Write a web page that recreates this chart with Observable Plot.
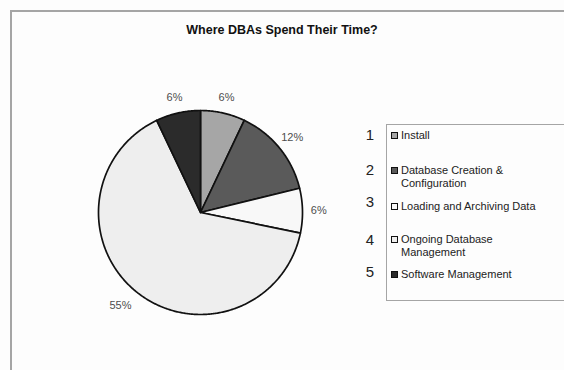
<!DOCTYPE html>
<html><head><meta charset="utf-8">
<script src="https://cdn.jsdelivr.net/npm/d3@7"></script>
<script src="https://cdn.jsdelivr.net/npm/@observablehq/plot@0.6"></script>
<style>
body{margin:0;background:#fff;}
#wrap{position:relative;width:564px;height:370px;overflow:hidden;background:#fdfdfd;font-family:"Liberation Sans",Arial,sans-serif;color:#111;}
#frame{position:absolute;left:10px;top:10px;width:600px;height:400px;border-left:2px solid #a5a5a5;border-top:2px solid #a5a5a5;}
#title{position:absolute;left:0;width:564px;top:23px;text-align:center;font-weight:bold;font-size:12.5px;}
#chart{position:absolute;left:0;top:0;}
#legend{position:absolute;left:386px;top:124px;width:200px;height:175px;border:1.5px solid #a5a5a5;}
.num{position:absolute;left:364px;font-size:15px;width:12px;text-align:center;color:#222;}
.item{position:absolute;left:391px;font-size:11px;line-height:13px;color:#222;}
.sw{position:absolute;left:0;top:3px;width:5px;height:5px;border:1.5px solid #111;}
.lab{margin-left:10px;display:block;}
</style></head>
<body><div id="wrap"><div id="frame"></div><div id="title"></div><div id="chart"></div><div id="legend"></div></div>
<script>
const title = "Where DBAs Spend Their Time?";
const categories = ["Install", "Database Creation & Configuration", "Loading and Archiving Data", "Ongoing Database Management", "Software Management"];
const legendLines = [["Install"], ["Database Creation &", "Configuration"], ["Loading and Archiving Data"], ["Ongoing Database", "Management"], ["Software Management"]];
const values = [6, 12, 6, 55, 6];
const palette = ["#a6a6a6", "#5a5a5a", "#f8f8f8", "#eeeeee", "#2b2b2b"];

document.getElementById("title").textContent = title;

const arcs = d3.pie().sort(null).value(d => d)(values);
const poly = [];
arcs.forEach((a, i) => {
  const key = categories[i];
  poly.push({key, x: 0, y: 0});
  const n = Math.max(2, Math.ceil((a.endAngle - a.startAngle) / 0.01));
  for (let k = 0; k <= n; k++) {
    const t = a.startAngle + (a.endAngle - a.startAngle) * k / n;
    poly.push({key, x: Math.sin(t), y: Math.cos(t)});
  }
  poly.push({key, x: 0, y: 0});
});
const labels = arcs.map((a, i) => {
  const m = (a.startAngle + a.endAngle) / 2;
  return {text: values[i] + "%", x: 1.16 * Math.sin(m), y: 1.16 * Math.cos(m), side: Math.sin(m)};
});

const plot = Plot.plot({
  width: 564, height: 370, margin: 0,
  style: {fontFamily: '"Liberation Sans", Arial, sans-serif', background: "transparent"},
  x: {domain: [-1, 1], range: [98, 302], axis: null},
  y: {domain: [-1, 1], range: [314, 110], axis: null},
  color: {domain: categories, range: palette},
  marks: [
    Plot.line(poly, {x: "x", y: "y", z: "key", fill: "key", stroke: "#111", strokeWidth: 1.7, strokeLinejoin: "round"}),
    Plot.text(labels.filter(d => d.side >= -0.5), {x: "x", y: "y", text: "text", fontSize: 11, fill: "#4d4d4d"}),
    Plot.text(labels.filter(d => d.side < -0.5), {x: "x", y: "y", text: "text", fontSize: 11, fill: "#4d4d4d", dx: -7})
  ]
});
document.getElementById("chart").appendChild(plot);

const numY = [126, 161, 193, 231, 263];
const itemY = [129, 164, 200, 233, 268];
const wrap = document.getElementById("wrap");
legendLines.forEach((lines, i) => {
  const n = document.createElement("div");
  n.className = "num"; n.style.top = numY[i] + "px"; n.textContent = String(i + 1);
  wrap.appendChild(n);
  const it = document.createElement("div");
  it.className = "item"; it.style.top = itemY[i] + "px";
  const sw = document.createElement("div");
  sw.className = "sw"; sw.style.background = palette[i];
  it.appendChild(sw);
  lines.forEach(l => { const s = document.createElement("span"); s.className = "lab"; s.textContent = l; it.appendChild(s); });
  wrap.appendChild(it);
});
</script></body></html>
